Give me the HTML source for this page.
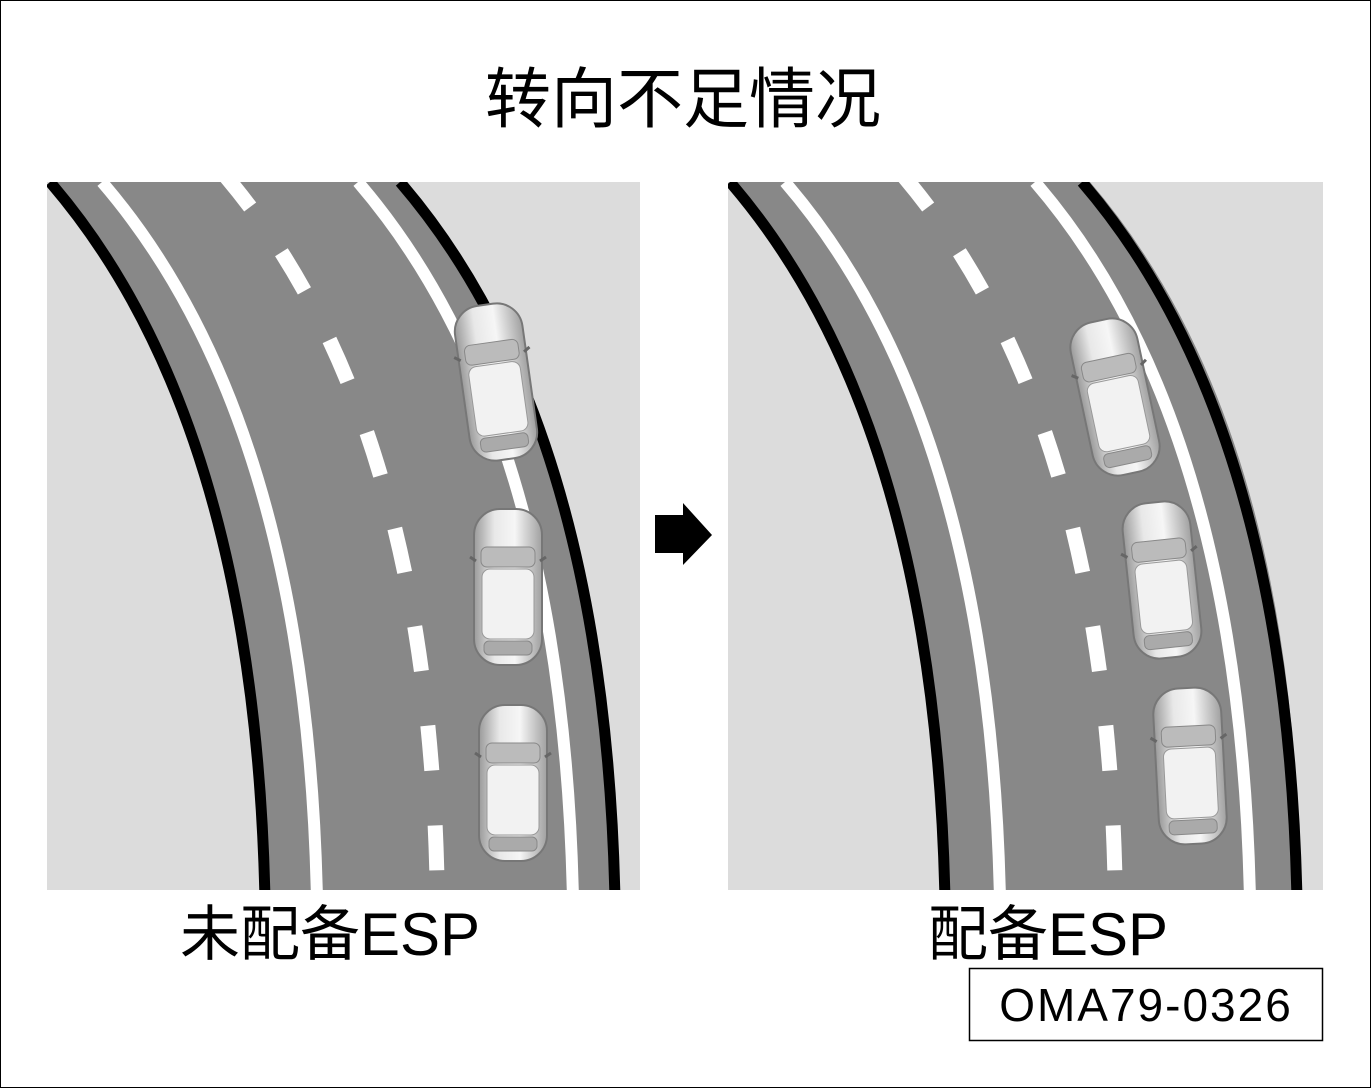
<!DOCTYPE html>
<html><head><meta charset="utf-8"><style>
html,body{margin:0;padding:0;background:#fff}
svg{display:block}
text{font-family:"Liberation Sans","Noto Sans CJK SC",sans-serif}
</style></head><body>
<svg width="1371" height="1088" viewBox="0 0 1371 1088" xmlns="http://www.w3.org/2000/svg">
<defs>
<linearGradient id="car" x1="0" x2="1" y1="0" y2="0">
<stop offset="0" stop-color="#9a9a9a"/><stop offset="0.3" stop-color="#e8e8e8"/><stop offset="0.6" stop-color="#f6f6f6"/><stop offset="1" stop-color="#a0a0a0"/>
</linearGradient>
<g id="carg">
<rect x="-34" y="-78" width="68" height="156" rx="26" fill="url(#car)" stroke="#777" stroke-width="2"/>
<rect x="-27" y="-40" width="54" height="20" rx="6" fill="#bbb" stroke="#888"/>
<rect x="-26" y="-18" width="52" height="70" rx="8" fill="#f2f2f2" stroke="#999"/>
<rect x="-24" y="54" width="48" height="14" rx="5" fill="#aaa" stroke="#888"/>
<path d="M-38,-30 l6,4 M38,-30 l-6,4" stroke="#666" stroke-width="3"/>
</g>
<clipPath id="c1"><rect x="47" y="182" width="593" height="708"/></clipPath>
<clipPath id="c2"><rect x="728" y="182" width="595" height="708"/></clipPath>
</defs>
<rect x="0.5" y="0.5" width="1370" height="1087" fill="#fff" stroke="#000"/>
<text x="683" y="122" font-size="66" text-anchor="middle">转向不足情况</text>

<!-- left panel -->
<g clip-path="url(#c1)">
<rect x="47" y="182" width="593" height="708" fill="#dcdcdc"/>
<path d="M50,182 Q255,420 265,890 L615,890 Q605,420 400,182 Z" fill="#888"/>
<path d="M50,182 Q255,420 265,900" fill="none" stroke="#000" stroke-width="11"/>
<path d="M50,182 Q255,420 265,900" fill="none" stroke="#fff" stroke-width="12" transform="translate(52,0)"/>
<path d="M50,182 Q255,420 265,890" fill="none" stroke="#fff" stroke-width="15" stroke-dasharray="45,55" transform="translate(172,-10)"/>
<path d="M50,182 Q255,420 265,900" fill="none" stroke="#fff" stroke-width="12" transform="translate(308,0)"/>
<path d="M50,182 Q255,420 265,900" fill="none" stroke="#000" stroke-width="11" transform="translate(350,0)"/>
</g>
<use href="#carg" transform="translate(496,382) rotate(-8)"/>
<use href="#carg" transform="translate(508,587)"/>
<use href="#carg" transform="translate(513,783)"/>

<!-- arrow -->
<path d="M655,515 L683,515 L683,503 L712,535 L683,565 L683,553 L655,553 Z" fill="#000"/>

<!-- right panel -->
<g clip-path="url(#c2)">
<rect x="728" y="182" width="595" height="708" fill="#dcdcdc"/>
<path d="M730,182 Q935,420 945,890 L1300,890 Q1295,420 1090,182 Z" fill="#888"/>
<path d="M730,182 Q935,420 945,900" fill="none" stroke="#000" stroke-width="11"/>
<path d="M730,182 Q935,420 945,900" fill="none" stroke="#fff" stroke-width="12" transform="translate(55,0)"/>
<path d="M730,182 Q935,420 945,890" fill="none" stroke="#fff" stroke-width="15" stroke-dasharray="45,55" transform="translate(170,-10)"/>
<path d="M730,182 Q935,420 945,900" fill="none" stroke="#fff" stroke-width="12" transform="translate(305,0)"/>
<path d="M730,182 Q935,420 945,900" fill="none" stroke="#000" stroke-width="11" transform="translate(352,0)"/>
</g>
<use href="#carg" transform="translate(1115,397) rotate(-12)"/>
<use href="#carg" transform="translate(1162,580) rotate(-6)"/>
<use href="#carg" transform="translate(1190,766) rotate(-3)"/>

<text x="180" y="955" font-size="60">未配备ESP</text>
<text x="928" y="955" font-size="60">配备ESP</text>
<rect x="969.5" y="968.5" width="353" height="72" fill="#fff" stroke="#000" stroke-width="1.5"/>
<text x="1146" y="1021" font-size="46" letter-spacing="2" text-anchor="middle">OMA79-0326</text>
</svg>
</body></html>
